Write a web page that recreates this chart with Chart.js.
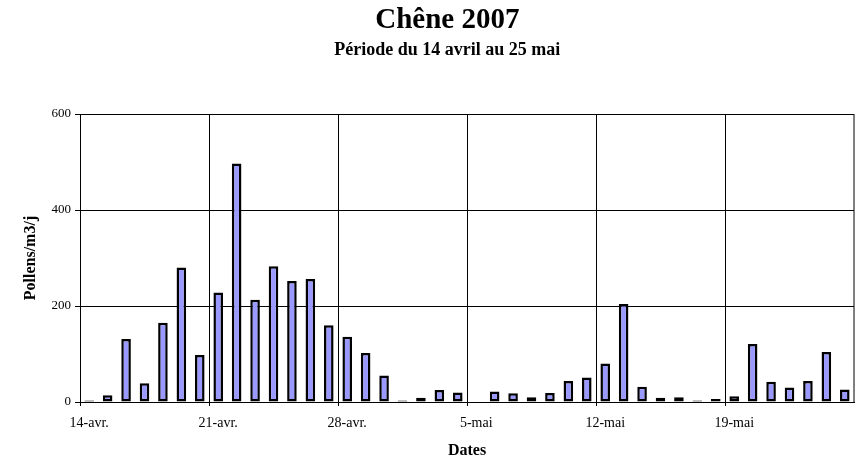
<!DOCTYPE html>
<html lang="fr">
<head>
  <meta charset="UTF-8">
  <title>Chêne 2007</title>
  <style>
    body {
      margin: 0;
      background: #fff;
    }
    .container {
      width: 857px;
      height: 460px;
    }
  </style>
</head>
<body>

<div class="container">
  <canvas id="pollenChart" width="857" height="460"></canvas>
</div>

<script src="https://cdn.jsdelivr.net/npm/chart.js"></script>
<script>
  // Dates (one bar per day, 14 avril -> 25 mai)
  const dates = [
    '14-avr.', '15-avr.', '16-avr.', '17-avr.', '18-avr.', '19-avr.', '20-avr.',
    '21-avr.', '22-avr.', '23-avr.', '24-avr.', '25-avr.', '26-avr.', '27-avr.',
    '28-avr.', '29-avr.', '30-avr.', '1-mai', '2-mai', '3-mai', '4-mai',
    '5-mai', '6-mai', '7-mai', '8-mai', '9-mai', '10-mai', '11-mai',
    '12-mai', '13-mai', '14-mai', '15-mai', '16-mai', '17-mai', '18-mai',
    '19-mai', '20-mai', '21-mai', '22-mai', '23-mai', '24-mai', '25-mai'
  ];

  // Pollens/m3/j (5-mai has no value)
  const pollens = [
    3, 14, 131, 39, 165, 280, 98,
    228, 497, 213, 283, 252, 256, 160,
    136, 102, 55, 3, 9, 25, 20,
    null, 22, 18, 10, 19, 44, 51,
    80, 204, 32, 9, 10, 3, 6,
    12, 121, 42, 30, 44, 104, 26
  ];

  const yTicks = [0, 200, 400, 600];

  const titleText = 'Chêne 2007';
  const subtitleText = 'Période du 14 avril au 25 mai';

  const serif = '"Liberation Serif", "Times New Roman", serif';

  // every 7th category boundary gets a grid line
  function weekLine(ctx) {
    return ctx.index % 7 === 0 ? '#000' : 'rgba(0,0,0,0)';
  }

  // title block, a bit right of the canvas centre like the original
  const titles = {
    id: 'titles',
    afterDraw: function (chart) {
      const c = chart.ctx;
      const cx = chart.width * 0.522;
      c.save();
      c.fillStyle = '#000';
      c.textAlign = 'center';
      c.textBaseline = 'alphabetic';
      c.font = 'bold 29px ' + serif;
      c.fillText(titleText, cx, 28);
      c.font = 'bold 18px ' + serif;
      c.fillText(subtitleText, cx, 55);
      c.restore();
    }
  };

  // right-hand border of the plot area
  const frame = {
    id: 'frame',
    afterDraw: function (chart) {
      const a = chart.chartArea;
      const c = chart.ctx;
      c.save();
      c.strokeStyle = '#000';
      c.lineWidth = 1;
      c.beginPath();
      c.moveTo(a.right, a.top);
      c.lineTo(a.right, a.bottom);
      c.stroke();
      c.restore();
    }
  };

  const ctx = document.getElementById('pollenChart').getContext('2d');
  new Chart(ctx, {
    type: 'bar',
    data: {
      labels: dates,
      datasets: [{
        label: 'Pollens',
        data: pollens,
        backgroundColor: '#9999ff',
        borderColor: '#000',
        borderWidth: 2.5,
        borderSkipped: false,
        barPercentage: 0.52,
        categoryPercentage: 1
      }]
    },
    options: {
      responsive: false,
      animation: false,
      layout: {
        padding: { left: 0, right: 3, top: 114, bottom: 0 }
      },
      plugins: {
        legend: { display: false },
        tooltip: { enabled: false },
        title: { display: false }
      },
      scales: {
        x: {
          offset: true,
          grid: {
            offset: true,
            color: weekLine,
            tickColor: weekLine,
            tickLength: 4,
            lineWidth: 1
          },
          border: { color: '#000', width: 1 },
          ticks: {
            autoSkip: false,
            maxRotation: 0,
            color: '#000',
            padding: 9,
            font: { family: serif, size: 14 },
            callback: function (value, index) {
              return index % 7 === 0 ? dates[index] : '';
            }
          },
          title: {
            display: true,
            text: 'Dates',
            color: '#000',
            font: { family: serif, size: 16, weight: 'bold' },
            padding: { top: 0, bottom: 0 }
          },
          afterFit: function (scale) {
            scale.height = 58;
          }
        },
        y: {
          min: 0,
          max: 600,
          afterBuildTicks: function (scale) {
            scale.ticks = yTicks.map(v => ({ value: v }));
          },
          grid: {
            color: '#000',
            tickColor: '#000',
            tickLength: 5,
            lineWidth: 1
          },
          border: { color: '#000', width: 1 },
          ticks: {
            color: '#000',
            padding: 4,
            font: { family: serif, size: 13 }
          },
          title: {
            display: true,
            text: 'Pollens/m3/j',
            color: '#000',
            font: { family: serif, size: 16, weight: 'bold' },
            padding: { top: 21, bottom: 0 }
          },
          afterFit: function (scale) {
            scale.width = 80;
          }
        }
      }
    },
    plugins: [titles, frame]
  });
</script>

</body>
</html>
